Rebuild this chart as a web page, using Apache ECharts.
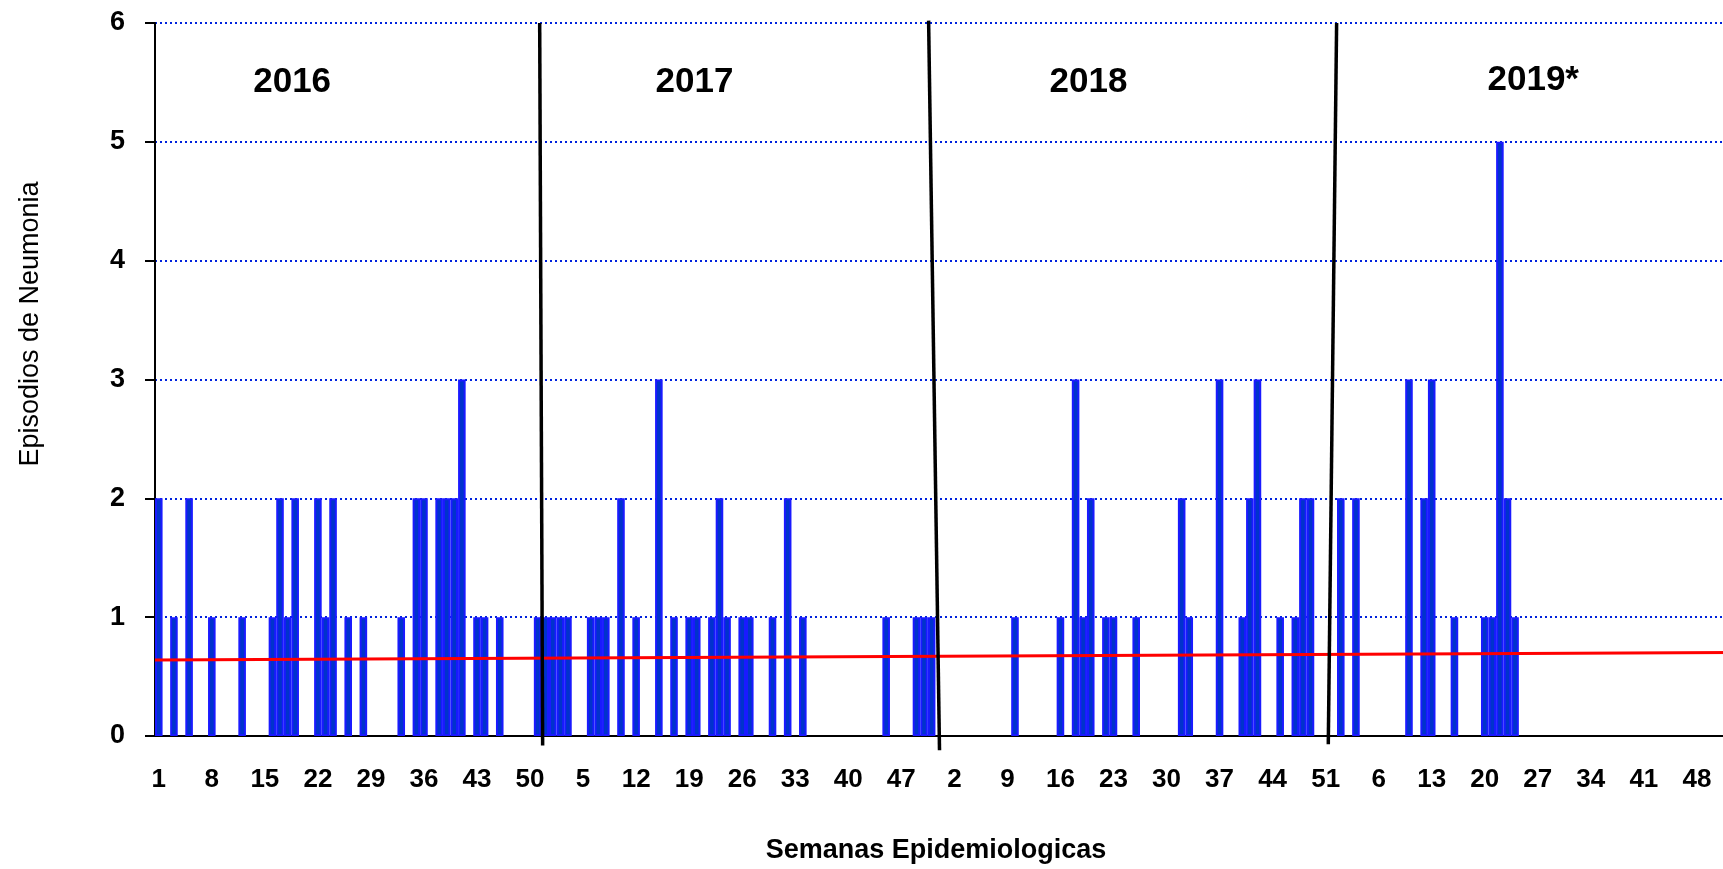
<!DOCTYPE html>
<html>
<head>
<meta charset="utf-8">
<title>Episodios de Neumonia</title>
<script src="https://cdn.jsdelivr.net/npm/echarts@6/dist/echarts.min.js"></script>
<style>
    html, body { margin: 0; padding: 0; background: #fff; overflow: hidden; }
    /* el grafico original queda cortado a la derecha: el lienzo es algo mas ancho que el marco */
    #wrap { width: 1723px; height: 869px; overflow: hidden; position: relative; }
    #chart-container { width: 1731px; height: 869px; }
</style>
</head>
<body>
<div id="wrap"><div id="chart-container"></div></div>
<script>
// episodios por semana epidemiologica, semanas 1-52 de cada año
var weeks2016 = [2,0,1,0,2,0,0,1,0,0, 0,1,0,0,0,1,2,1,2,0, 0,2,1,2,0,1,0,1,0,0, 0,0,1,0,2,2,0,2,2,2, 3,0,1,1,0,1,0,0,0,0, 1,1];
var weeks2017 = [1,1,1,0,0,1,1,1,0,2, 0,1,0,0,3,0,1,0,1,1, 0,1,2,1,0,1,1,0,0,1, 0,2,0,1,0,0,0,0,0,0, 0,0,0,0,1,0,0,0,1,1, 1,0];
var weeks2018 = [0,0,0,0,0,0,0,0,0,1, 0,0,0,0,0,1,0,3,1,2, 0,1,1,0,0,1,0,0,0,0, 0,2,1,0,0,0,3,0,0,1, 2,3,0,0,1,0,1,2,2,0, 0,0];
var weeks2019 = [2,0,2,0,0,0,0,0,0,3, 0,2,3,0,0,1,0,0,0,1, 1,5,2,1,0,0,0,0,0,0, 0,0,0,0,0,0,0,0,0,0, 0,0,0,0,0,0,0,0,0,0, 0,0];

var yearNames = ['2016', '2017', '2018', '2019*'];
// donde va cada etiqueta de año (x en semanas desde el inicio, y en episodios)
var yearLabelX = [18.1, 71.2, 123.2, 181.9];
var yearLabelY = [5.5, 5.5, 5.5, 5.52];
// lineas negras entre años: [x arriba, y arriba, x abajo, y abajo]
var yearBreaks = [
    [50.77, 6.0, 51.16, -0.08],
    [102.1, 6.02, 103.54, -0.12],
    [155.95, 6.0, 154.85, -0.07]
];
// linea de tendencia (inicio y fin)
var trendLine = [[0, 0.639], [208, 0.703]];

var FONT = "'Liberation Sans', Arial, sans-serif";

var myChart = echarts.init(document.getElementById('chart-container'));

var allYears = [weeks2016, weeks2017, weeks2018, weeks2019];
var categories = [];
var counts = [];
allYears.forEach(function (year) {
    year.forEach(function (v, w) {
        categories.push(String(w + 1));
        counts.push(v > 0 ? v : '-');
    });
});

var series = [{
    name: 'Episodios',
    type: 'bar',
    xAxisIndex: 0,
    data: counts,
    barCategoryGap: '0%',
    itemStyle: { color: '#0033cc', borderColor: '#1a1aff', borderWidth: 2 },
    z: 2
}, {
    name: 'Tendencia',
    type: 'line',
    xAxisIndex: 1,
    data: trendLine,
    symbol: 'none',
    lineStyle: { color: '#ff0000', width: 3 },
    z: 3
}];

yearBreaks.forEach(function (b) {
    series.push({
        type: 'line',
        xAxisIndex: 1,
        data: [[b[0], b[1]], [b[2], b[3]]],
        symbol: 'none',
        clip: false,
        lineStyle: { color: '#000', width: 3.5 },
        z: 4
    });
});

series.push({
    type: 'scatter',
    xAxisIndex: 1,
    symbolSize: 0,
    itemStyle: { opacity: 1 },
    data: yearNames.map(function (n, i) { return [yearLabelX[i], yearLabelY[i], n]; }),
    label: {
        show: true,
        position: 'inside',
        formatter: function (p) { return p.value[2]; },
        color: '#000',
        opacity: 1,
        textBorderWidth: 0,
        fontFamily: FONT,
        fontWeight: 'bold',
        fontSize: 35
    },
    z: 5
});

var option = {
    animation: false,
    backgroundColor: '#fff',
    grid: { left: 155, top: 23, right: 0, bottom: 126, containLabel: false },
    xAxis: [{
        type: 'category',
        data: categories,
        boundaryGap: true,
        name: 'Semanas Epidemiologicas',
        nameLocation: 'middle',
        nameGap: 101,
        nameTextStyle: { color: '#000', fontFamily: FONT, fontWeight: 'bold', fontSize: 27, padding: [0, 14, 0, 0] },
        axisLine: { lineStyle: { color: '#000', width: 2 } },
        axisTick: { interval: 0, length: 9, lineStyle: { color: '#000', width: 2 } },
        axisLabel: { interval: 6, margin: 31, color: '#000', fontFamily: FONT, fontWeight: 'bold', fontSize: 26 },
        splitLine: { show: false }
    }, {
        type: 'value',
        min: 0,
        max: 208,
        show: false
    }],
    yAxis: {
        type: 'value',
        min: 0,
        max: 6,
        interval: 1,
        axisLine: { show: true, lineStyle: { color: '#000', width: 2 } },
        axisTick: { show: true, length: 10, lineStyle: { color: '#000', width: 2 } },
        axisLabel: { margin: 30, color: '#000', fontFamily: FONT, fontWeight: 'bold', fontSize: 27 },
        splitLine: { lineStyle: { color: '#0022dd', type: [2, 3], width: 2 } }
    },
    graphic: [{
        type: 'text',
        x: 31,
        y: 324,
        rotation: Math.PI / 2,
        style: {
            text: 'Episodios de Neumonia',
            fill: '#000',
            font: "27px " + FONT,
            align: 'center',
            verticalAlign: 'middle'
        }
    }],
    series: series
};

myChart.setOption(option);
</script>
</body>
</html>
